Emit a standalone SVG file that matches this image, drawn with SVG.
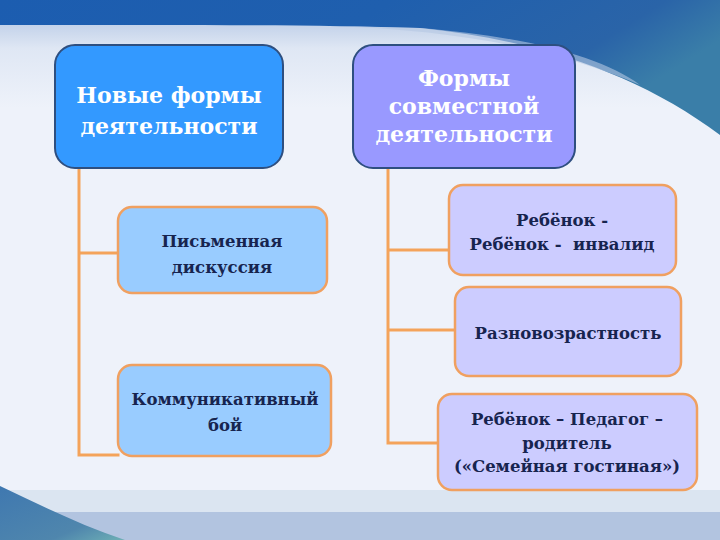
<svg xmlns="http://www.w3.org/2000/svg" width="720" height="540" viewBox="0 0 720 540">
<defs>
<linearGradient id="bgBody" x1="0" y1="0" x2="0" y2="1">
<stop offset="0" stop-color="#a7bddf"/>
<stop offset="0.09" stop-color="#dfe7f4"/>
<stop offset="0.2" stop-color="#eef2fa"/>
<stop offset="1" stop-color="#eef2fa"/>
</linearGradient>
<linearGradient id="topDark" x1="0" y1="0" x2="1" y2="0.3">
<stop offset="0" stop-color="#1c5db0"/>
<stop offset="0.5" stop-color="#1f5fae"/>
<stop offset="0.85" stop-color="#2a64a8"/>
<stop offset="1" stop-color="#3a7ea8"/>
</linearGradient>
<linearGradient id="blTeal" x1="0" y1="0" x2="1" y2="1">
<stop offset="0" stop-color="#3f78b0"/>
<stop offset="0.7" stop-color="#4f86ad"/>
<stop offset="1" stop-color="#6fb0b5"/>
</linearGradient>
<style>
.hdr{stroke:#2e4f80;stroke-width:2}
.sub{stroke:#f0a060;stroke-width:2.5}
.conn{stroke:#f4a35a;stroke-width:3;fill:none;stroke-linecap:square}
.ht{font-family:"DejaVu Serif","Liberation Serif",serif;font-weight:bold;font-size:22px;fill:#ffffff;text-anchor:middle}
.st{font-family:"DejaVu Serif","Liberation Serif",serif;font-weight:bold;font-size:16.5px;fill:#17244f;text-anchor:middle}
</style>
</defs>
<g id="background">
<rect x="0" y="0" width="720" height="540" fill="url(#bgBody)"/>
<path d="M0,0 H720 V135 C640,75 540,40 420,28 C300,24 150,25 0,25 Z" fill="url(#topDark)"/>
<path d="M330,26 C460,30 560,50 640,85 C600,55 520,36 420,28 Z" fill="#b6c8e3" opacity="0.6"/>
<rect x="0" y="490" width="720" height="22" fill="#dbe5f1"/>
<rect x="0" y="512" width="720" height="28" fill="#b2c4e0"/>
<path d="M0,486 C40,505 80,525 125,540 H0 Z" fill="url(#blTeal)"/>
</g>
<g id="connectors">
<path class="conn" d="M79,168 V455 M79,253 H118 M79,455 H118"/>
<path class="conn" d="M388,168 V443 M388,250 H449 M388,330 H455 M388,443 H438"/>
</g>
<g id="node-new-forms">
<rect class="hdr" x="55" y="45" width="228" height="123" rx="20" fill="#3399ff"/>
<text class="ht" x="169" y="103">Новые формы</text>
<text class="ht" x="169" y="134">деятельности</text>
</g>
<g id="node-joint-forms">
<rect class="hdr" x="353" y="45" width="222" height="123" rx="20" fill="#9999ff"/>
<text class="ht" x="464" y="86">Формы</text>
<text class="ht" x="464" y="114">совместной</text>
<text class="ht" x="464" y="142">деятельности</text>
</g>
<g id="node-written">
<rect class="sub" x="118" y="207" width="209" height="86" rx="14" fill="#99ccff"/>
<text class="st" x="222" y="247">Письменная</text>
<text class="st" x="222" y="273">дискуссия</text>
</g>
<g id="node-communicative">
<rect class="sub" x="118" y="365" width="213" height="91" rx="14" fill="#99ccff"/>
<text class="st" x="225" y="405">Коммуникативный</text>
<text class="st" x="225" y="431">бой</text>
</g>
<g id="node-child-child">
<rect class="sub" x="449" y="185" width="227" height="90" rx="14" fill="#ccccff"/>
<text class="st" x="562" y="226">Ребёнок -</text>
<text class="st" x="562" y="250" xml:space="preserve">Ребёнок -  инвалид</text>
</g>
<g id="node-mixed-age">
<rect class="sub" x="455" y="287" width="226" height="89" rx="14" fill="#ccccff"/>
<text class="st" x="568" y="339">Разновозрастность</text>
</g>
<g id="node-family">
<rect class="sub" x="438" y="394" width="259" height="96" rx="14" fill="#ccccff"/>
<text class="st" x="567" y="425">Ребёнок – Педагог –</text>
<text class="st" x="567" y="449">родитель</text>
<text class="st" x="567" y="472">(«Семейная гостиная»)</text>
</g>
</svg>
